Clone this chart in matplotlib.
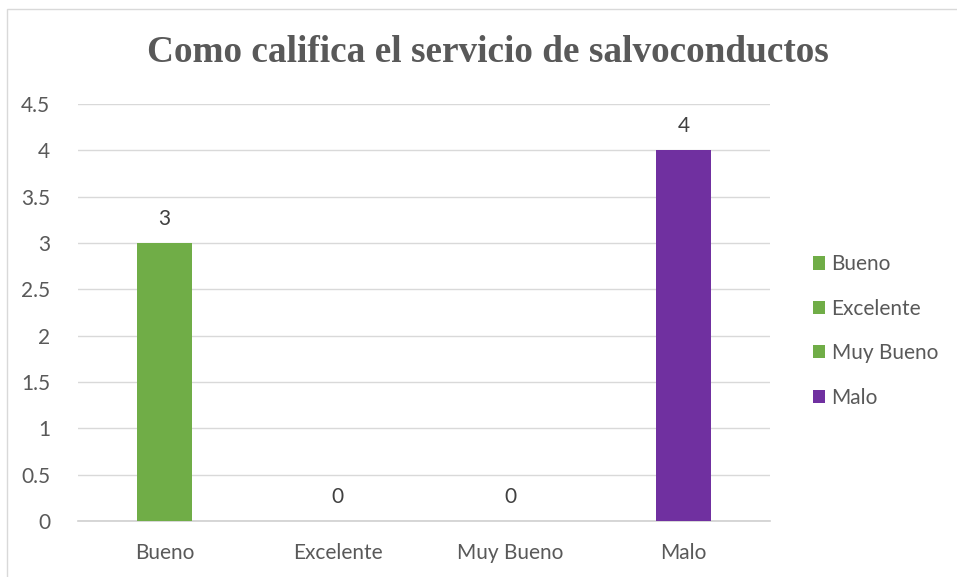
import matplotlib.pyplot as plt
from matplotlib.patches import Patch, Rectangle

categories = ['Bueno', 'Excelente', 'Muy Bueno', 'Malo']
values = [3, 0, 0, 4]
bar_colors = ['#70AD47', '#70AD47', '#70AD47', '#7030A0']
yticks = [0, 0.5, 1, 1.5, 2, 2.5, 3, 3.5, 4, 4.5]

title = 'Como califica el servicio de salvoconductos'
text_color = '#595959'

plt.rcParams['font.family'] = ['Lato', 'DejaVu Sans']

fig = plt.figure(figsize=(9.57, 5.77), dpi=100)
W, H = 957, 577

# chart frame (light border on left/top like the clipped Excel chart)
fig.patches.append(Rectangle((7 / W, -0.1), 1.2, (577 - 9) / H + 0.1,
                             transform=fig.transFigure, fill=False,
                             edgecolor='#D9D9D9', linewidth=1.0))

ax = fig.add_axes([78 / W, 1 - 521 / H, (770 - 78) / W, (521 - 104) / H])
x = range(len(categories))
ax.bar(x, values, width=0.32, color=bar_colors, zorder=3)

ax.set_xlim(-0.5, len(categories) - 0.5)
ax.set_ylim(0, 4.5)
ax.set_yticks(yticks)
ax.set_yticklabels([f'{t:g}' for t in yticks])
ax.set_xticks(list(x))
ax.set_xticklabels(categories)
ax.tick_params(axis='both', length=0, labelsize=15, colors=text_color)
ax.tick_params(axis='y', pad=20)
ax.tick_params(axis='x', pad=16)

ax.grid(axis='y', color='#D9D9D9', linewidth=1.0, zorder=0)
for side in ['top', 'right', 'left']:
    ax.spines[side].set_visible(False)
ax.spines['bottom'].set_color('#D0D0D0')
ax.spines['bottom'].set_linewidth(1.2)

for xi, v in zip(x, values):
    ax.annotate(f'{v}', (xi, v), xytext=(0, 10), textcoords='offset points',
                ha='center', va='bottom', fontsize=15, color='#404040')

fig.text(488 / W, 1 - 53 / H, title, ha='center', va='center',
         fontsize=26.8, fontweight='bold', color=text_color,
         family='Liberation Serif')

handles = [Patch(facecolor=c, edgecolor='none') for c in bar_colors]
fig.legend(handles, categories, loc='center left',
           bbox_to_anchor=(794 / W, 1 - 331 / H), frameon=False,
           fontsize=15, labelcolor=text_color, handlelength=0.6,
           handleheight=0.6, handletextpad=0.3, labelspacing=1.17)

fig.savefig('out.png', dpi=100)
